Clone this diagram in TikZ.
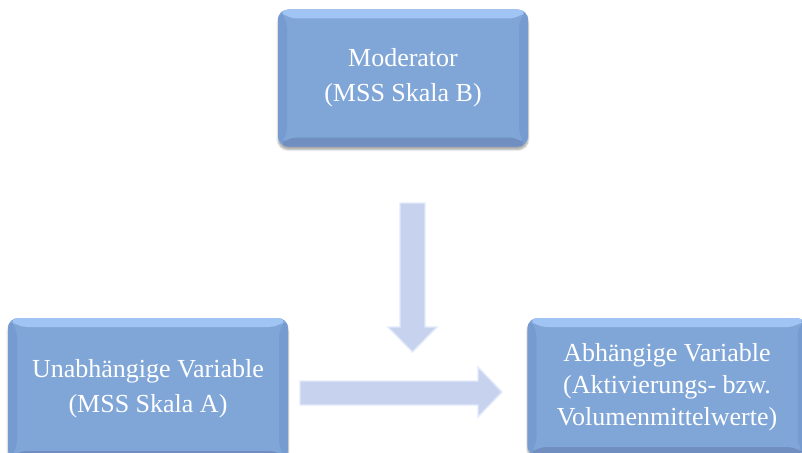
\documentclass[tikz,border=0pt]{standalone}
\usepackage{fontspec}
\setmainfont{Liberation Serif}
\usetikzlibrary{shadows.blur}
\definecolor{boxface}{RGB}{128,166,216}
\definecolor{boxtop}{RGB}{160,196,244}
\definecolor{boxbottom}{RGB}{112,143,192}
\definecolor{boxside}{RGB}{118,155,208}
\definecolor{arrowfill}{RGB}{198,210,238}
\definecolor{arrowedge}{RGB}{226,234,251}
\tikzset{
  bevelbox/.style={
    rounded corners=10pt, fill=boxface, inner sep=0pt,
    text=white, align=center,
    font=\fontsize{26}{35}\selectfont,
    blur shadow={shadow xshift=0pt, shadow yshift=-3pt, shadow blur steps=6, shadow opacity=35},
    path picture={
      \coordinate (nw) at (path picture bounding box.north west);
      \coordinate (ne) at (path picture bounding box.north east);
      \coordinate (sw) at (path picture bounding box.south west);
      \coordinate (se) at (path picture bounding box.south east);
      \fill[boxtop] (nw) -- (ne) -- ([shift={(-9pt,-9pt)}]ne) -- ([shift={(9pt,-9pt)}]nw) -- cycle;
      \fill[boxbottom] (sw) -- (se) -- ([shift={(-9pt,9pt)}]se) -- ([shift={(9pt,9pt)}]sw) -- cycle;
      \fill[boxside] (nw) -- ([shift={(9pt,-9pt)}]nw) -- ([shift={(9pt,9pt)}]sw) -- (sw) -- cycle;
      \fill[boxside] (ne) -- ([shift={(-9pt,-9pt)}]ne) -- ([shift={(-9pt,9pt)}]se) -- (se) -- cycle;
    }
  },
  blockarrow/.style={fill=arrowfill, draw=arrowedge, line width=1.4pt, line join=miter}
}
\begin{document}
\begin{tikzpicture}[x=1pt,y=-1pt]
  \useasboundingbox (0,0) rectangle (802,452);

  % the three variables
  \node[bevelbox, minimum width=250pt, minimum height=137pt] (mod) at (403,78)
    {Moderator\\(MSS Skala B)};
  \node[bevelbox, minimum width=280pt, minimum height=142pt] (iv) at (148,389)
    {Unabhängige Variable\\(MSS Skala A)};
  \node[bevelbox, minimum width=279pt, minimum height=138pt, font=\fontsize{26}{32}\selectfont] (dv) at (667,387)
    {Abhängige Variable\\(Aktivierungs- bzw.\\Volumenmittelwerte)};

  % moderator arrow pointing down onto the main path
  \coordinate (downtip) at (412.5,352);
  \draw[blockarrow] (400,203) -- (425,203) -- (425,327) -- (437,327) -- (downtip)
    -- (388,327) -- (400,327) -- cycle;

  % main path from independent to dependent variable
  \coordinate (righttip) at (502,392);
  \draw[blockarrow] (300,381) -- (478,381) -- (478,367) -- (righttip)
    -- (478,417) -- (478,405) -- (300,405) -- cycle;
\end{tikzpicture}
\end{document}
